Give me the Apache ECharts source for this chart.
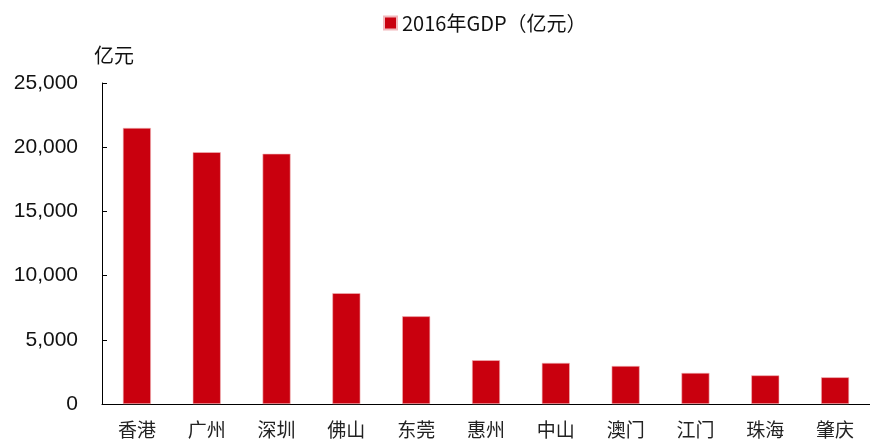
<!DOCTYPE html>
<html>
<head>
<meta charset="utf-8">
<script src="https://cdn.jsdelivr.net/npm/echarts@6/dist/echarts.min.js"></script>
<style>
  html, body { margin: 0; padding: 0; background: #fff; }
  #chart { width: 870px; height: 441px; }
</style>
</head>
<body>
<div id="chart"></div>
<script>
// 城市与2016年GDP（亿元）
const cities = ["香港", "广州", "深圳", "佛山", "东莞", "惠州", "中山", "澳门", "江门", "珠海", "肇庆"];
const gdp2016 = [21500, 19610, 19490, 8630, 6830, 3410, 3200, 2960, 2420, 2230, 2080];
const yTicks = [0, 5000, 10000, 15000, 20000, 25000];

const chart = echarts.init(document.getElementById("chart"));
chart.setOption({
  animation: false,
  legend: {
    left: 378,
    top: 8,
    itemWidth: 13,
    itemHeight: 13,
    itemGap: 4,
    icon: "rect",
    textStyle: { fontSize: 20, color: "#111", fontFamily: "Noto Sans CJK SC" },
    data: ["2016年GDP（亿元）"]
  },
  grid: { left: 102, right: 0, top: 83, bottom: 37 },
  xAxis: {
    type: "category",
    data: cities,
    axisLine: { lineStyle: { color: "#000", width: 1 } },
    axisTick: { inside: true, length: 5, lineStyle: { color: "#000" } },
    axisLabel: { fontSize: 19, color: "#222", margin: 16, fontFamily: "Noto Sans CJK SC" }
  },
  yAxis: {
    type: "value",
    min: yTicks[0],
    max: yTicks[yTicks.length - 1],
    interval: 5000,
    name: "亿元",
    nameGap: 18,
    nameTextStyle: { fontSize: 20, color: "#111", align: "left", padding: [0, 0, 0, -8], fontFamily: "Noto Sans CJK SC" },
    splitLine: { show: false },
    axisLine: { show: true, lineStyle: { color: "#000", width: 1 } },
    axisTick: { show: true, inside: true, length: 5, lineStyle: { color: "#000" } },
    axisLabel: {
      fontSize: 21,
      color: "#111",
      margin: 24,
      fontFamily: "Liberation Sans",
      formatter: v => v.toLocaleString("en-US")
    }
  },
  series: [{
    name: "2016年GDP（亿元）",
    type: "bar",
    data: gdp2016,
    barWidth: 28,
    itemStyle: { color: "#C9000E", borderColor: "#F2B8BC", borderWidth: 0.6 }
  }]
});
</script>
</body>
</html>
